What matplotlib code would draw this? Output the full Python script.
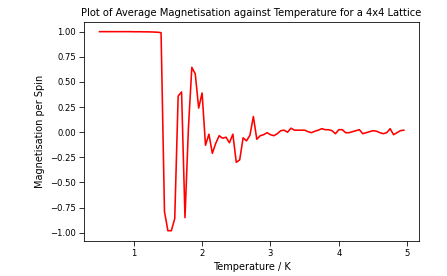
import numpy as np
import matplotlib
matplotlib.use("Agg")
import matplotlib.pyplot as plt

# temperature grid (K), 0.05 K steps
temperature = np.linspace(0.5, 4.95, 90)

# average magnetisation per spin
mag_ordered = [1.0, 1.0, 1.0, 1.0, 1.0, 1.0, 1.0, 1.0, 1.0, 1.0,
               0.999, 0.999, 0.999, 0.998, 0.998, 0.997, 0.996, 0.994, 0.99]
mag_transition = [-0.79, -0.98, -0.98, -0.86, 0.36, 0.40, -0.85, 0.04,
                  0.645, 0.58, 0.24, 0.39, -0.13, -0.02, -0.21, -0.11,
                  -0.035, -0.06, -0.05, -0.105, -0.02, -0.30, -0.275,
                  -0.056, -0.086, -0.03, 0.156, -0.07, -0.035]
mag_disordered = [-0.025, -0.005, -0.025, -0.035, -0.015, 0.015, 0.02,
                  0.0, 0.04, 0.02, 0.02, 0.02, 0.02, 0.005, -0.005, 0.01,
                  0.02, 0.035, 0.025, 0.025, 0.015, -0.015, 0.025, 0.025,
                  -0.005, -0.005, 0.005, 0.015, 0.025, -0.015, -0.005,
                  0.005, 0.015, 0.01, -0.005, -0.015, -0.005, 0.035,
                  -0.025, -0.005, 0.015, 0.02]
magnetisation = mag_ordered + mag_transition + mag_disordered

fig = plt.figure(figsize=(447 / 72, 276 / 72), dpi=72)
ax = fig.add_axes([0.1886, 0.128, 0.7488, 0.7934])

ax.plot(temperature, magnetisation, color="red", linewidth=1.6)

ax.set_xlabel("Temperature / K", fontsize=9.8)
ax.set_ylabel("Magnetisation per Spin", fontsize=9.8, labelpad=5)
ax.set_title("Plot of Average Magnetisation against Temperature for a 4x4 Lattice",
             fontsize=10)
ax.tick_params(labelsize=8.5, length=5)
ax.set_yticks([-1.0, -0.75, -0.5, -0.25, 0.0, 0.25, 0.5, 0.75, 1.0])

fig.savefig("out.png", dpi=72)
